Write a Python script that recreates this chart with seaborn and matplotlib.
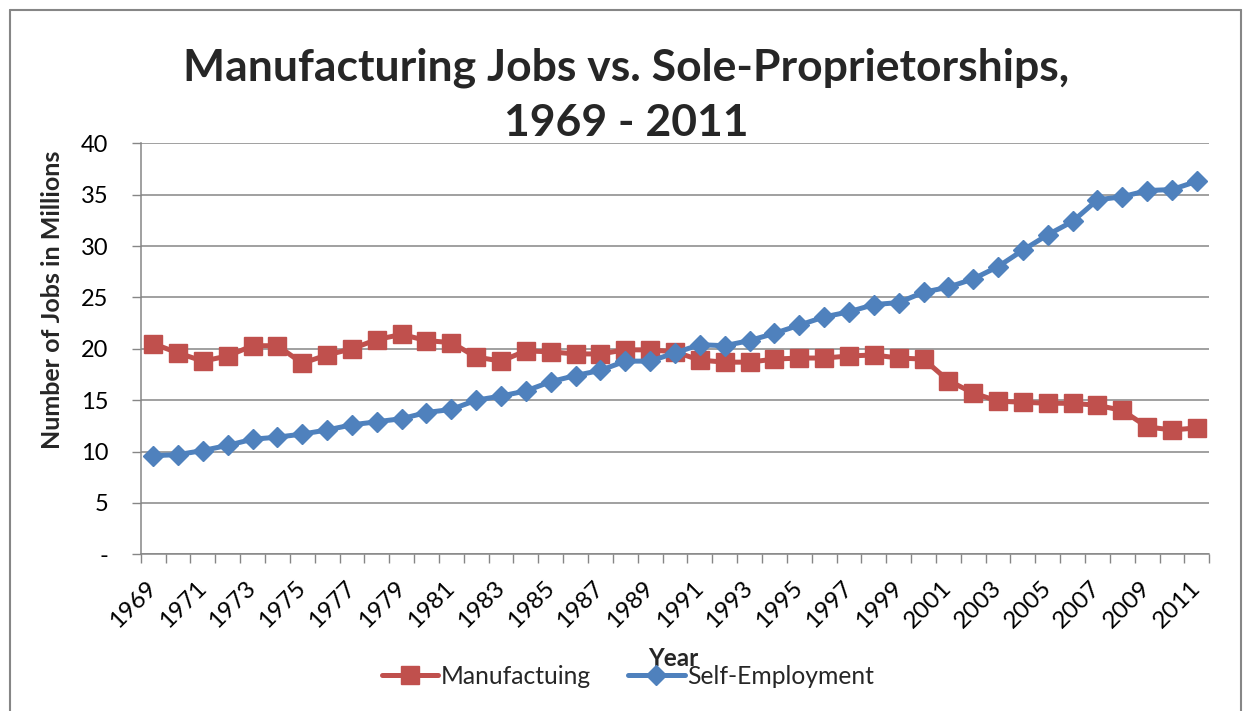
import matplotlib
matplotlib.use("Agg")
import matplotlib.pyplot as plt
from matplotlib.ticker import FixedLocator, FuncFormatter
from matplotlib.lines import Line2D
import pandas as pd
import seaborn as sns

# ---- data (millions of jobs) ----
years = list(range(1969, 2012))
manufacturing = [
    20.5, 19.6, 18.8, 19.3, 20.3, 20.3, 18.6, 19.4, 20.0, 20.9, 21.4,
    20.8, 20.6, 19.2, 18.8, 19.8, 19.7, 19.5, 19.5, 19.9, 19.9,
    19.7, 18.9, 18.7, 18.7, 19.0, 19.1, 19.1, 19.3, 19.4, 19.1,
    19.0, 16.9, 15.7, 14.9, 14.8, 14.7, 14.7, 14.5, 14.0, 12.4, 12.1, 12.3,
]
self_employment = [
    9.6, 9.7, 10.1, 10.6, 11.2, 11.4, 11.7, 12.1, 12.6, 12.9, 13.2,
    13.8, 14.1, 15.0, 15.4, 15.9, 16.8, 17.4, 17.9, 18.8, 18.8,
    19.6, 20.4, 20.3, 20.8, 21.5, 22.3, 23.1, 23.6, 24.3, 24.5,
    25.5, 26.0, 26.8, 28.0, 29.6, 31.1, 32.4, 34.5, 34.8, 35.4, 35.5, 36.3,
]
series_names = ["Manufactuing", "Self-Employment"]
y_ticks = [0, 5, 10, 15, 20, 25, 30, 35, 40]

df = pd.DataFrame({
    "Year": years * 2,
    "Jobs": manufacturing + self_employment,
    "Series": [series_names[0]] * len(years) + [series_names[1]] * len(years),
})

sns.set_theme(style="white")
plt.rcParams["font.family"] = ["Lato", "DejaVu Sans"]

W, H, DPI = 1246, 711, 100
fig = plt.figure(figsize=(W / DPI, H / DPI), dpi=DPI)
fig.patch.set_facecolor("white")

ax = fig.add_axes([140.7 / W, 1 - 554.3 / H, 1068.6 / W, 411 / H])

RED = "#C0504D"
BLUE = "#4F81BD"
GRID = "#868686"
SQ_MS, DI_MS, LW = 13, 10.2, 3.6

sns.lineplot(
    data=df, x="Year", y="Jobs", hue="Series", style="Series",
    hue_order=series_names, style_order=series_names,
    palette={series_names[0]: RED, series_names[1]: BLUE},
    markers={series_names[0]: "s", series_names[1]: "D"},
    dashes=False, linewidth=LW, markersize=SQ_MS, markeredgewidth=1,
    legend=False, ax=ax, zorder=3,
)
for line, col in zip(ax.get_lines(), [RED, BLUE]):
    line.set_markeredgecolor(col)
    line.set_markerfacecolor(col)
    line.set_solid_capstyle("round")
ax.get_lines()[1].set_markersize(DI_MS)

# axes limits and ticks (category-style: points centred between tick marks)
ax.set_xlim(years[0] - 0.5, years[-1] + 0.5)
ax.set_ylim(0, 40)
ax.xaxis.set_major_locator(FixedLocator(years[::2]))
ax.xaxis.set_minor_locator(FixedLocator([y - 0.5 for y in years] + [years[-1] + 0.5]))
ax.set_xticklabels([str(y) for y in years[::2]], rotation=45, ha="right",
                   rotation_mode="anchor", va="center")
ax.tick_params(axis="x", which="major", length=0, pad=22, labelsize=17.5, labelcolor="black")
ax.tick_params(axis="x", which="minor", length=6.5, width=1, color=GRID, direction="out", bottom=True)
ax.yaxis.set_major_locator(FixedLocator(y_ticks))
ax.yaxis.set_major_formatter(FuncFormatter(lambda v, p: "-" if v == 0 else f"{v:.0f}"))
ax.tick_params(axis="y", which="major", length=6.5, width=1, color=GRID, direction="out",
               left=True, pad=17, labelsize=17, labelcolor="black")

ax.grid(axis="y", color=GRID, linewidth=1.1)
ax.grid(axis="x", visible=False)
ax.set_axisbelow(True)
for side in ["top", "right"]:
    ax.spines[side].set_visible(False)
for side in ["left", "bottom"]:
    ax.spines[side].set_color(GRID)
    ax.spines[side].set_linewidth(1.1)
ax.set_xlabel("")
ax.set_ylabel("")

# titles and axis labels
fig.text(626 / W, 1 - 80 / H, "Manufacturing Jobs vs. Sole-Proprietorships,",
         ha="center", va="baseline", fontsize=32, fontweight="bold")
fig.text(626 / W, 1 - 136 / H, "1969 - 2011",
         ha="center", va="baseline", fontsize=32, fontweight="bold")
fig.text(53 / W, 1 - 300 / H, "Number of Jobs in Millions", rotation=90,
         ha="center", va="center", fontsize=18, fontweight="bold")
fig.text(673 / W, 1 - 658 / H, "Year", ha="center", va="center",
         fontsize=17.5, fontweight="bold")

# legend
handles = [
    Line2D([], [], color=RED, lw=LW, marker="s", markersize=SQ_MS, solid_capstyle="round"),
    Line2D([], [], color=BLUE, lw=LW, marker="D", markersize=DI_MS, solid_capstyle="round"),
]
fig.legend(handles, series_names, loc="center", bbox_to_anchor=(628 / W, 1 - 676 / H),
           ncol=2, frameon=False, fontsize=17.7, handlelength=2.3,
           handletextpad=0.12, columnspacing=1.5)

# chart border
fig.add_artist(Line2D([10 / W, 10 / W], [0, 1 - 9.5 / H], transform=fig.transFigure,
                      color=GRID, lw=1.5))
fig.add_artist(Line2D([10 / W, 1240.5 / W], [1 - 9.5 / H, 1 - 9.5 / H],
                      transform=fig.transFigure, color=GRID, lw=1.5))
fig.add_artist(Line2D([1240.5 / W, 1240.5 / W], [0, 1 - 9.5 / H], transform=fig.transFigure,
                      color=GRID, lw=1.5))

fig.savefig("out.png", dpi=DPI)
